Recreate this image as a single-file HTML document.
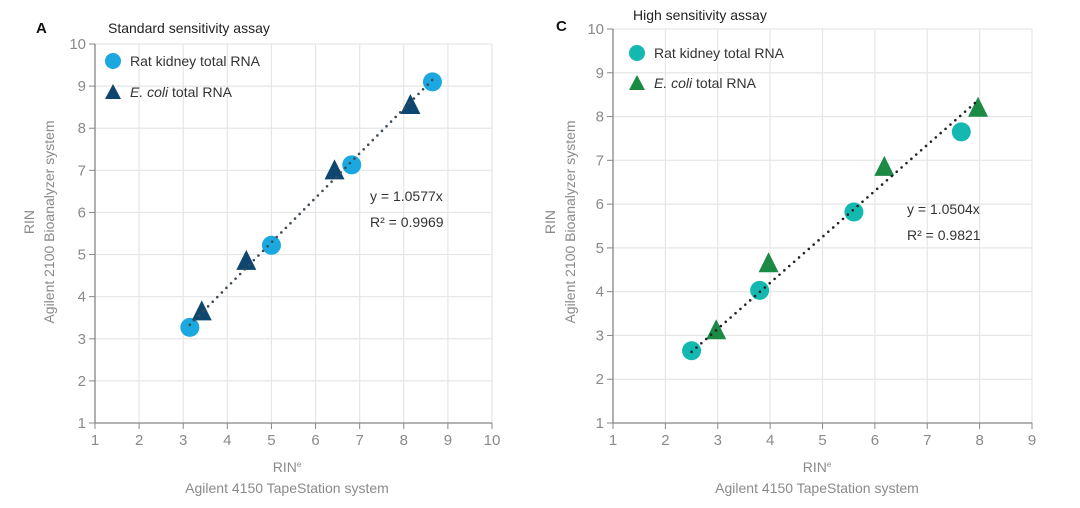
<!DOCTYPE html>
<html><head><meta charset="utf-8"><style>
html,body{margin:0;padding:0;background:#fff;}
svg{display:block;font-family:"Liberation Sans",sans-serif;}
</style></head><body>
<svg id="s" width="1080" height="508" viewBox="0 0 1080 508"></svg>
<script>
// Panel A data
const aCircleX=[3.15,5.0,6.82,8.65];
const aCircleY=[3.27,5.22,7.13,9.1];
const aTriX=[3.42,4.43,6.43,8.15];
const aTriY=[3.65,4.85,7.0,8.55];
const aSlope=1.0577;
const aFitRange=[3.15,8.7];
const aXTicks=[1,2,3,4,5,6,7,8,9,10];
const aYTicks=[1,2,3,4,5,6,7,8,9,10];
// Panel C data
const cCircleX=[2.5,3.8,5.6,7.65];
const cCircleY=[2.65,4.03,5.82,7.65];
const cTriX=[2.97,3.97,6.18,7.97];
const cTriY=[3.12,4.65,6.85,8.2];
const cSlope=1.0504;
const cFitRange=[2.5,7.95];
const cXTicks=[1,2,3,4,5,6,7,8,9];
const cYTicks=[1,2,3,4,5,6,7,8,9,10];

const NS="http://www.w3.org/2000/svg";
const svg=document.getElementById('s');
function mk(tag,attrs,parent,txt){const e=document.createElementNS(NS,tag);for(const k in attrs)e.setAttribute(k,attrs[k]);if(txt!==undefined)e.textContent=txt;(parent||svg).appendChild(e);return e;}

function panel(o){
  const g=mk('g',{});
  
  
  const sx=v=>o.x0+(v-o.xmin)/(o.xmax-o.xmin)*(o.x1-o.x0);
  const sy=v=>o.y0-(v-o.ymin)/(o.ymax-o.ymin)*(o.y0-o.y1);
  o.xt.forEach(t=>{const l=mk('line',{x1:sx(t),x2:sx(t),y1:o.y1,y2:o.y0,stroke:'#e6e6e6','stroke-width':1.2},g);});
  o.yt.forEach(t=>{const l=mk('line',{x1:o.x0,x2:o.x1,y1:sy(t),y2:sy(t),stroke:'#e6e6e6','stroke-width':1.2},g);});
  const xa=mk('line',{x1:o.x0,x2:o.x1,y1:o.y0,y2:o.y0,stroke:'#888','stroke-width':1.3},g);
  
  const ya=mk('line',{x1:o.x0,x2:o.x0,y1:o.y1,y2:o.y0,stroke:'#888','stroke-width':1.3},g);
  
  o.xt.forEach(t=>{mk('line',{x1:sx(t),x2:sx(t),y1:o.y0,y2:o.y0+6,stroke:'#888'},g);
    const tx=mk('text',{x:sx(t),y:o.y0+22,'text-anchor':'middle','font-size':15,fill:'#8a8a8a'},g,t);
    });
  o.yt.forEach(t=>{mk('line',{x1:o.x0-6,x2:o.x0,y1:sy(t),y2:sy(t),stroke:'#888'},g);
    const tx=mk('text',{x:o.x0-9,y:sy(t)+5,'text-anchor':'end','font-size':15,fill:'#8a8a8a'},g,t);
    });
  o.cx.forEach((v,i)=>{const c=mk('circle',{cx:sx(v),cy:sy(o.cy[i]),r:9.5,fill:o.cc},g);
    });
  o.tx.forEach((v,i)=>{const X=sx(v),Y=sy(o.ty[i]);
    const p=mk('polygon',{points:`${X-10},${Y+9} ${X+10},${Y+9} ${X},${Y-11}`,fill:o.tc},g);
    });
  const f=mk('line',{x1:sx(o.fr[0]),y1:sy(o.fr[0]*o.slope),x2:sx(o.fr[1]),y2:sy(o.fr[1]*o.slope),stroke:o.fc,'stroke-width':2.6,'stroke-dasharray':'0 6.5','stroke-linecap':'round'},g);
  
  const l1=mk('circle',{cx:o.lx,cy:o.ly1,r:8,fill:o.cc},g);
  
  const t1=mk('text',{x:o.lx+17,y:o.ly1+5,'font-size':14,fill:'#333'},g,'Rat kidney total RNA');
  
  const l2=mk('polygon',{points:`${o.lx-8},${o.ly2+7} ${o.lx+8},${o.ly2+7} ${o.lx},${o.ly2-8}`,fill:o.tc},g);
  
  const t2=mk('text',{x:o.lx+17,y:o.ly2+5,'font-size':14,fill:'#333'},g);
  
  mk('tspan',{'font-style':'italic'},t2,'E. coli');mk('tspan',{},t2,' total RNA');
  const e1=mk('text',{x:o.ex,y:o.ey,'font-size':14,fill:'#333'},g,'y = '+o.slope.toFixed(4)+'x');
  
  const e2=mk('text',{x:o.ex,y:o.ey+26,'font-size':14,fill:'#333'},g,o.r2);
  
  const xt1=mk('text',{x:o.xtc,y:472,'text-anchor':'middle','font-size':14,fill:'#8a8a8a'},g);
  
  mk('tspan',{},xt1,'RIN');mk('tspan',{'font-size':8,dy:-5},xt1,'e');
  const xt2=mk('text',{x:o.xtc,y:493,'text-anchor':'middle','font-size':14,fill:'#8a8a8a'},g,'Agilent 4150 TapeStation system');
  
  const yc=222;
  const yt1=mk('text',{x:0,y:0,'text-anchor':'middle','font-size':14,fill:'#8a8a8a',transform:`translate(${o.ytx},${yc}) rotate(-90)`},g,'RIN');
  
  const yt2=mk('text',{x:0,y:0,'text-anchor':'middle','font-size':14,fill:'#8a8a8a',transform:`translate(${o.ytx+20},${yc}) rotate(-90)`},g,'Agilent 2100 Bioanalyzer system');
  
  const pl=mk('text',{x:o.plx,y:o.ply,'font-size':15,'font-weight':'bold',fill:'#111'},g,o.letter);
  
  const pt=mk('text',{x:o.ptx,y:o.pty,'font-size':14,fill:'#222'},g,o.title);
  
}
panel({name:'panel-a-chart',x0:95,x1:492,y0:423,y1:44,xmin:1,xmax:10,ymin:1,ymax:10,xt:aXTicks,yt:aYTicks,
  cx:aCircleX,cy:aCircleY,tx:aTriX,ty:aTriY,slope:aSlope,fr:aFitRange,cc:'#1ba7e0',tc:'#0d4770',fc:'#3e4a55',
  lx:113,ly1:61,ly2:92,ex:370,ey:201,r2:'R² = 0.9969',xtc:287,ytx:34,plx:36,ply:33,letter:'A',ptx:108,pty:33,title:'Standard sensitivity assay'});
panel({name:'panel-c-chart',x0:613,x1:1032,y0:423,y1:29,xmin:1,xmax:9,ymin:1,ymax:10,xt:cXTicks,yt:cYTicks,
  cx:cCircleX,cy:cCircleY,tx:cTriX,ty:cTriY,slope:cSlope,fr:cFitRange,cc:'#13b8b0',tc:'#1a8a45',fc:'#222',
  lx:637,ly1:53,ly2:83,ex:907,ey:214,r2:'R² = 0.9821',xtc:817,ytx:555,plx:556,ply:31,letter:'C',ptx:633,pty:20,title:'High sensitivity assay'});
</script>
</body></html>
